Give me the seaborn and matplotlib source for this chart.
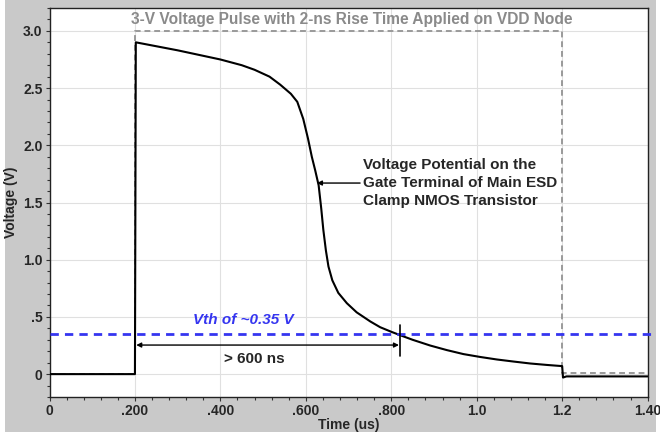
import numpy as np
import pandas as pd
import matplotlib
matplotlib.use("Agg")
import matplotlib.pyplot as plt
from matplotlib.patches import Rectangle
from matplotlib.ticker import MultipleLocator, FixedLocator, FixedFormatter
import seaborn as sns

# ---- data ----
gate_time = [0.000, 0.200, 0.202, 0.300, 0.400, 0.450, 0.480, 0.515, 0.540, 0.565,
             0.580, 0.594, 0.605, 0.614, 0.622, 0.630, 0.636, 0.641, 0.647, 0.653,
             0.662, 0.676, 0.696, 0.719, 0.735, 0.751, 0.774, 0.800, 0.821, 0.850,
             0.891, 0.930, 0.969, 1.008, 1.047, 1.086, 1.125, 1.165, 1.200, 1.202,
             1.210, 1.400]
gate_volt = [0.00, 0.00, 2.90, 2.83, 2.75, 2.70, 2.66, 2.60, 2.53, 2.45,
             2.38, 2.23, 2.06, 1.90, 1.78, 1.65, 1.45, 1.26, 1.08, 0.94,
             0.82, 0.71, 0.62, 0.54, 0.50, 0.46, 0.41, 0.37, 0.34, 0.30,
             0.25, 0.21, 0.175, 0.15, 0.128, 0.11, 0.093, 0.08, 0.07, -0.03,
             -0.02, -0.02]

pulse_time = [0.0, 0.2, 0.2, 1.2, 1.2, 1.4]
pulse_volt = [0.0, 0.0, 3.0, 3.0, 0.01, 0.01]

vth = 0.35
x_ticks = [0, 0.2, 0.4, 0.6, 0.8, 1.0, 1.2, 1.4]
x_labels = ["0", ".200", ".400", ".600", ".800", "1.0", "1.2", "1.40"]
y_ticks = [0, 0.5, 1.0, 1.5, 2.0, 2.5, 3.0]
y_labels = ["0", ".5", "1.0", "1.5", "2.0", "2.5", "3.0"]

gate = pd.DataFrame({"t": gate_time, "v": gate_volt})
pulse = pd.DataFrame({"t": pulse_time, "v": pulse_volt})

# ---- style ----
sns.set_style("whitegrid")
plt.rcParams['font.family'] = ['Liberation Sans', 'DejaVu Sans']
plt.rcParams['font.weight'] = 'bold'

fig = plt.figure(figsize=(6.6, 4.36), dpi=100, facecolor="white")
bg = Rectangle((5 / 660, 4 / 436), 651 / 660, 432 / 436,
               transform=fig.transFigure, facecolor="#c9c9c9",
               edgecolor="none", zorder=-10)
fig.patches.append(bg)
ax = fig.add_axes([49.5 / 660, 1 - 397 / 436, (647.6 - 49.5) / 660, (397 - 8) / 436])
ax.set_zorder(5)
ax.set_facecolor("white")

# pulse (gray dashed) and gate voltage (black)
sns.lineplot(data=pulse, x="t", y="v", ax=ax, sort=False, estimator=None,
             color="#9a9a9a", linewidth=1.4, zorder=2)
ax.lines[-1].set_dashes((3, 2))
sns.lineplot(data=gate, x="t", y="v", ax=ax, sort=False, estimator=None,
             color="black", linewidth=1.5, zorder=3)

# Vth line
ax.hlines(vth, 0, 1.42, colors="#3535f0", linewidth=2.0, linestyles=(0, (3, 2.2)),
          clip_on=False, zorder=4)
ax.text(0.453, 0.47, "Vth of ~0.35 V", color="#3535f0", fontsize=11,
        fontweight="bold", style="italic", ha="center", va="center")

# > 600 ns marker
ax.annotate("", xy=(0.203, 0.254), xytext=(0.818, 0.254),
            arrowprops=dict(arrowstyle="<|-|>", color="black", lw=1.0,
                            mutation_scale=7, shrinkA=0, shrinkB=0))
ax.plot([0.821, 0.821], [0.16, 0.43], color="black", linewidth=1.2, zorder=5)
ax.text(0.48, 0.135, "> 600 ns", fontsize=11, fontweight="bold",
        ha="center", va="center")

# gate annotation
ax.annotate("", xy=(0.626, 1.67), xytext=(0.727, 1.67),
            arrowprops=dict(arrowstyle="-|>", color="black", lw=1.0,
                            mutation_scale=7, shrinkA=0, shrinkB=0))
ax.text(0.733, 1.67, "Voltage Potential on the\nGate Terminal of Main ESD\nClamp NMOS Transistor",
        fontsize=11, fontweight="bold", ha="left", va="center", linespacing=1.38)

# title inside axes
ax.text(0.708, 3.10, "3-V Voltage Pulse with 2-ns Rise Time Applied on VDD Node",
        color="#8a8a8a", fontsize=11.2, fontweight="bold", ha="center", va="center")

# axes
ax.set_xlim(0, 1.4)
ax.set_ylim(-0.2, 3.2)
ax.xaxis.set_major_locator(FixedLocator(x_ticks))
ax.xaxis.set_major_formatter(FixedFormatter(x_labels))
ax.yaxis.set_major_locator(FixedLocator(y_ticks))
ax.yaxis.set_major_formatter(FixedFormatter(y_labels))
ax.xaxis.set_minor_locator(MultipleLocator(0.04))
ax.yaxis.set_minor_locator(MultipleLocator(0.1))
ax.tick_params(which="both", direction="out", color="#333333", width=0.8,
               labelsize=10, pad=2, bottom=True, left=True)
ax.tick_params(which="major", length=3)
ax.tick_params(which="minor", length=2)
ax.grid(True, which="major", color="#e0e0e0", linewidth=0.8)
ax.grid(False, which="minor")
for lbl in ax.get_xticklabels() + ax.get_yticklabels():
    lbl.set_fontweight("bold")
for s in ax.spines.values():
    s.set_color("#222222")
    s.set_linewidth(1.0)

ax.set_xlabel("Time (us)", fontsize=10, fontweight="bold", labelpad=0)
ax.set_ylabel("Voltage (V)", fontsize=10, fontweight="bold", labelpad=4)

fig.savefig("out.png", dpi=100, facecolor="white")
